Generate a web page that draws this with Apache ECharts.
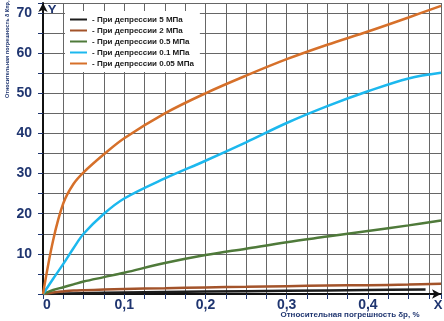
<!DOCTYPE html>
<html>
<head>
<meta charset="utf-8">
<script src="https://cdn.jsdelivr.net/npm/echarts@6/dist/echarts.min.js"></script>
<style>
    html, body { margin: 0; padding: 0; background: #fff; }
    #chart { width: 444px; height: 321px; }
</style>
</head>
<body>
<div id="chart"></div>
<script>
// Данные
const seriesNames = [
    '- При депрессии 5 МПа',
    '- При депрессии 2 МПа',
    '- При депрессии 0.5 МПа',
    '- При депрессии 0.1 МПа',
    '- При депрессии 0.05 МПа'
];
const seriesColors = ['#1c1c1c', '#a3532a', '#4f7a3a', '#1cb8ee', '#d6702a'];

// Общая ось X (δр, %)
const xs = [0, 0.0125, 0.025, 0.0375, 0.05, 0.075, 0.1, 0.15, 0.2, 0.25, 0.3, 0.35, 0.4, 0.45, 0.49];
// Кривая 5 МПа заканчивается раньше
const xsP5 = [0, 0.05, 0.1, 0.2, 0.3, 0.4, 0.471];

const valsP5   = [0, 0.2, 0.35, 0.6, 0.8, 1.0, 1.15];
const valsP2   = [0, 0.4, 0.65, 0.85, 0.95, 1.1, 1.25, 1.45, 1.65, 1.8, 1.95, 2.1, 2.2, 2.35, 2.55];
const valsP05  = [0, 1.0, 1.7, 2.4, 3.1, 4.2, 5.3, 7.7, 9.7, 11.3, 12.9, 14.3, 15.7, 17.1, 18.3];
const valsP01  = [0, 3.8, 7.5, 11.4, 15, 20, 23.8, 28.8, 33.2, 37.8, 42.6, 46.8, 50.5, 53.7, 55.1];
const valsP005 = [0, 13.4, 22.6, 27.4, 30.3, 34.8, 38.8, 45, 50, 54.4, 58.5, 62.1, 65.4, 68.9, 71.8];

const navy = '#1f3570';

function pairs(x, y) {
    return x.map((v, i) => [v, y[i]]);
}

const chart = echarts.init(document.getElementById('chart'));

const seriesData = [
    pairs(xsP5, valsP5),
    pairs(xs, valsP2),
    pairs(xs, valsP05),
    pairs(xs, valsP01),
    pairs(xs, valsP005)
];

const option = {
    animation: false,
    backgroundColor: '#fff',
    grid: { left: 43, right: 3, top: 3, bottom: 27 },
    legend: {
        orient: 'vertical',
        left: 65,
        top: 11,
        padding: [4, 6, 4, 5],
        backgroundColor: '#fff',
        itemWidth: 17,
        itemHeight: 2,
        itemGap: 2,
        icon: 'rect',
        data: seriesNames,
        textStyle: {
            fontFamily: 'Arial, "Liberation Sans", sans-serif',
            fontSize: 8,
            fontWeight: 'bold',
            color: '#1a1a1a',
            lineHeight: 9
        }
    },
    xAxis: {
        type: 'value',
        min: 0,
        max: 0.49,
        interval: 0.025,
        axisLine: {
            show: true,
            lineStyle: { color: '#111', width: 2 },
            symbol: ['none', 'arrow'],
            symbolSize: [7, 9]
        },
        axisTick: { show: true, length: 5, lineStyle: { color: navy, width: 1 } },
        splitLine: { show: true, lineStyle: { color: '#666', width: 1 } },
        axisLabel: {
            margin: 4,
            fontFamily: 'Arial, "Liberation Sans", sans-serif',
            fontSize: 14,
            fontWeight: 'bold',
            color: navy,
            alignMinLabel: 'left',
            formatter: function (v) {
                const t = v * 10;
                if (Math.abs(t - Math.round(t)) > 1e-6) return '';
                if (Math.round(t) === 0) return '0';
                return (Math.round(t) / 10).toFixed(1).replace('.', ',');
            }
        }
    },
    yAxis: {
        type: 'value',
        min: 0,
        max: 72.5,
        interval: 5,
        axisLine: {
            show: true,
            lineStyle: { color: '#111', width: 2 },
            symbol: ['none', 'arrow'],
            symbolSize: [7, 9]
        },
        axisTick: { show: true, length: 5, lineStyle: { color: navy, width: 1 } },
        splitLine: { show: true, lineStyle: { color: '#666', width: 1 } },
        axisLabel: {
            margin: 11,
            fontFamily: 'Arial, "Liberation Sans", sans-serif',
            fontSize: 14,
            fontWeight: 'bold',
            color: navy,
            formatter: function (v) {
                const r = Math.round(v);
                if (Math.abs(v - r) > 1e-6 || r === 0 || r % 10 !== 0) return '';
                return String(r);
            }
        }
    },
    graphic: [
        {
            type: 'text',
            x: 7,
            y: 46,
            rotation: Math.PI / 2,
            style: {
                text: 'Относительная погрешность δ Кпр, %',
                fontFamily: 'Arial, "Liberation Sans", sans-serif',
                fontSize: 5.5,
                fontWeight: 'bold',
                fill: navy,
                align: 'center',
                verticalAlign: 'middle'
            }
        },
        {
            type: 'text',
            x: 350,
            y: 315,
            style: {
                text: 'Относительная погрешность δр, %',
                fontFamily: 'Arial, "Liberation Sans", sans-serif',
                fontSize: 8,
                fontWeight: 'bold',
                fill: navy,
                align: 'center',
                verticalAlign: 'middle'
            }
        },
        {
            type: 'text',
            x: 52,
            y: 10,
            style: {
                text: 'Y',
                fontFamily: 'Arial, "Liberation Sans", sans-serif',
                fontSize: 13,
                fontWeight: 'bold',
                fill: navy,
                align: 'center',
                verticalAlign: 'middle'
            }
        },
        {
            type: 'text',
            x: 438,
            y: 305,
            style: {
                text: 'X',
                fontFamily: 'Arial, "Liberation Sans", sans-serif',
                fontSize: 13,
                fontWeight: 'bold',
                fill: navy,
                align: 'center',
                verticalAlign: 'middle'
            }
        }
    ],
    series: seriesNames.map((name, i) => ({
        name: name,
        type: 'line',
        data: seriesData[i],
        smooth: 0.35,
        showSymbol: false,
        symbol: 'none',
        z: 3,
        lineStyle: { color: seriesColors[i], width: 2.5 },
        itemStyle: { color: seriesColors[i] }
    }))
};

chart.setOption(option);
</script>
</body>
</html>
